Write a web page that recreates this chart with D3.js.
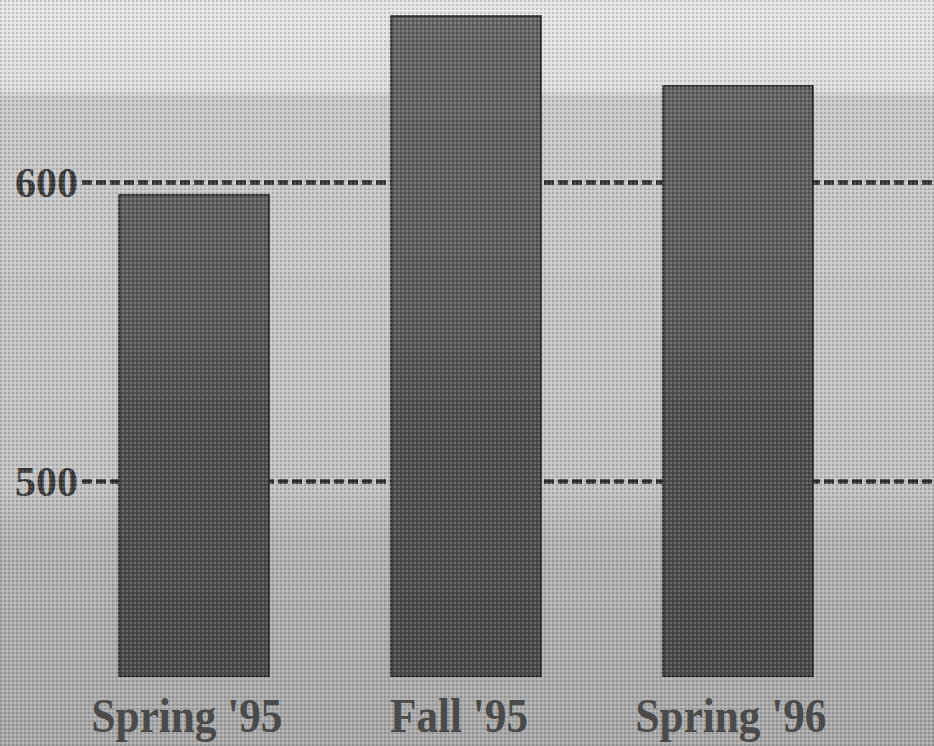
<!DOCTYPE html>
<html>
<head>
<meta charset="utf-8">
<script src="https://cdn.jsdelivr.net/npm/d3@7"></script>
<style>
  body { margin: 0; background: #c8c8c8; }
  svg { display: block; }
</style>
</head>
<body>
<div id="chart"></div>
<script>
const terms = ["Spring '95", "Fall '95", "Spring '96"];
const scores = [595.7, 655.5, 632.1];
const yTicks = [500, 600];

const dim = {
    width: 934,
    height: 746
};

const margin = {
    top: 0,
    left: 82,
    bottom: 70
};

const data = terms.map((t, i) => ({ term: t, score: scores[i] }));

const svg = d3.select("#chart").append("svg")
    .attr("width", dim.width)
    .attr("height", dim.height);

const defs = svg.append("defs");

// paper tone, lighter at the top
const bg = defs.append("linearGradient")
    .attr("id", "bg")
    .attr("x1", 0).attr("y1", 0).attr("x2", 0).attr("y2", 1);
bg.append("stop").attr("offset", "0").attr("stop-color", "#e6e6e6");
bg.append("stop").attr("offset", "0.12").attr("stop-color", "#dedede");
bg.append("stop").attr("offset", "0.13").attr("stop-color", "#c9c9c9");
bg.append("stop").attr("offset", "0.65").attr("stop-color", "#c2c2c2");
bg.append("stop").attr("offset", "0.72").attr("stop-color", "#b2b2b2");
bg.append("stop").attr("offset", "1").attr("stop-color", "#a8a8a8");

const barFill = defs.append("linearGradient")
    .attr("id", "barFill")
    .attr("gradientUnits", "userSpaceOnUse")
    .attr("x1", 0).attr("y1", 0).attr("x2", 0).attr("y2", 676);
barFill.append("stop").attr("offset", "0").attr("stop-color", "#646464");
barFill.append("stop").attr("offset", "0.45").attr("stop-color", "#5a5a5a");
barFill.append("stop").attr("offset", "0.62").attr("stop-color", "#4e4e4e");
barFill.append("stop").attr("offset", "1").attr("stop-color", "#4a4a4a");

// halftone dots
const dots = defs.append("pattern")
    .attr("id", "dots")
    .attr("width", 4).attr("height", 4)
    .attr("patternUnits", "userSpaceOnUse");
dots.append("circle").attr("cx", 1).attr("cy", 1).attr("r", 0.9).attr("fill", "#000").attr("opacity", 0.22);
dots.append("circle").attr("cx", 3).attr("cy", 3).attr("r", 0.9).attr("fill", "#fff").attr("opacity", 0.25);

svg.append("rect")
    .attr("width", dim.width)
    .attr("height", dim.height)
    .attr("fill", "url(#bg)");

const x = d3.scaleBand()
    .domain(terms)
    .range([58, 874])
    .paddingInner(0.45)
    .paddingOuter(0.225);

const y = d3.scaleLinear()
    .domain([434.8, 660.9])
    .range([dim.height - margin.bottom, margin.top]);

// dashed gridlines with labels
const yAxis = svg.append("g")
    .attr("class", "yAxis")
    .attr("transform", `translate(${margin.left},0)`)
    .call(d3.axisLeft(y)
        .tickValues(yTicks)
        .tickSize(-(dim.width - margin.left))
        .tickPadding(4)
        .tickFormat(d3.format("d")));

yAxis.select(".domain").remove();
yAxis.selectAll(".tick line")
    .attr("stroke", "#2e2e2e")
    .attr("stroke-width", 4.5)
    .attr("stroke-dasharray", "10,4");
yAxis.selectAll(".tick text")
    .attr("fill", "#3a3a3a")
    .attr("font-family", "'Liberation Serif', 'DejaVu Serif', serif")
    .attr("font-weight", "bold")
    .attr("font-size", 42)
    .attr("dy", "0.34em");

svg.selectAll(".bar")
    .data(data)
    .enter().append("rect")
    .attr("class", "bar")
    .attr("x", d => x(d.term))
    .attr("y", d => y(d.score))
    .attr("width", x.bandwidth())
    .attr("height", d => y(434.8) - y(d.score))
    .attr("fill", "url(#barFill)")
    .attr("stroke", "#2f2f2f")
    .attr("stroke-width", 2);

svg.append("rect")
    .attr("width", dim.width)
    .attr("height", dim.height)
    .attr("fill", "url(#dots)");

const xAxis = svg.append("g")
    .attr("class", "xAxis")
    .attr("transform", "translate(-7,732)")
    .call(d3.axisBottom(x).tickSize(0).tickPadding(0));

xAxis.select(".domain").remove();
xAxis.selectAll(".tick text")
    .attr("y", 0)
    .attr("dy", 0)
    .attr("fill", "#4a4a4a")
    .attr("font-family", "'Liberation Serif', 'DejaVu Serif', serif")
    .attr("font-weight", "bold")
    .attr("font-size", 48)
    .attr("transform", "scale(0.9,1)");
</script>
</body>
</html>
